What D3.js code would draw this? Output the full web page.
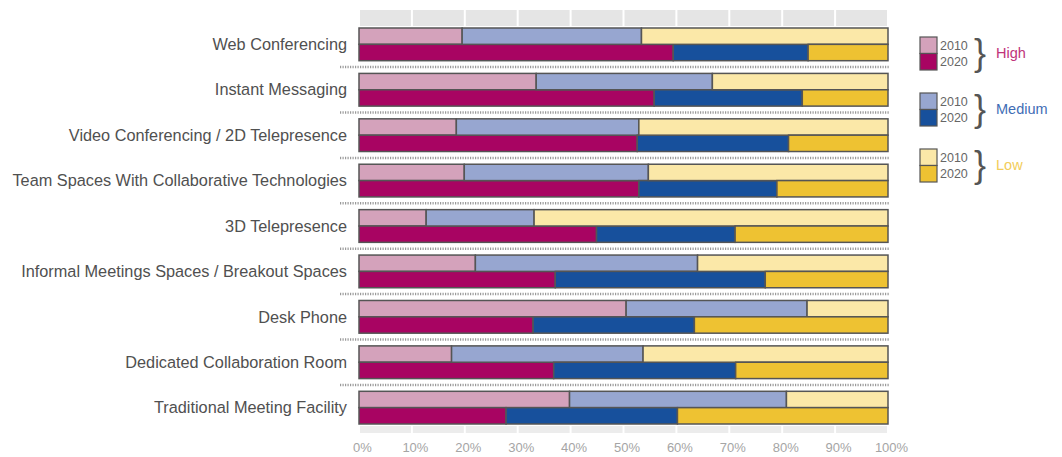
<!DOCTYPE html>
<html>
<head>
<meta charset="utf-8">
<script src="https://cdn.jsdelivr.net/npm/d3@7"></script>
<style>
    body { margin: 0; background: #fff; }
    text { font-family: "Liberation Sans", Arial, Helvetica, sans-serif; }
</style>
</head>
<body>
<div id="chart"></div>
<script>
// Chart data
const categories = [
    'Web Conferencing',
    'Instant Messaging',
    'Video Conferencing / 2D Telepresence',
    'Team Spaces With Collaborative Technologies',
    '3D Telepresence',
    'Informal Meetings Spaces / Breakout Spaces',
    'Desk Phone',
    'Dedicated Collaboration Room',
    'Traditional Meeting Facility'
];
const years = ['2010', '2020'];
const levels = ['High', 'Medium', 'Low'];

const high2010 = [19.5, 33.5, 18.4, 19.9, 12.7, 22.0, 50.5, 17.5, 39.8];
const medium2010 = [33.9, 33.3, 34.5, 34.8, 20.4, 42.0, 34.2, 36.2, 41.0];
const low2010 = [46.6, 33.2, 47.1, 45.3, 66.9, 36.0, 15.3, 46.3, 19.2];

const high2020 = [59.4, 55.8, 52.6, 52.9, 44.9, 37.1, 32.9, 36.8, 27.8];
const medium2020 = [25.5, 28.0, 28.6, 26.1, 26.2, 39.7, 30.5, 34.4, 32.4];
const low2020 = [15.1, 16.2, 18.8, 21.0, 28.9, 23.2, 36.6, 28.8, 39.8];

const tickValues = [0, 10, 20, 30, 40, 50, 60, 70, 80, 90, 100];

const colors = {
    '2010': { High: '#d4a2bb', Medium: '#97a6d0', Low: '#fbe8a8' },
    '2020': { High: '#a80462', Medium: '#17509c', Low: '#eec232' }
};
const levelTextColors = { High: '#c0337a', Medium: '#3f6db5', Low: '#f2cd5a' };

createChart();

function createChart() {
    const width = 1062;
    const height = 457;

    const svg = d3.select('#chart')
        .append('svg')
        .attr('width', width)
        .attr('height', height);

    // Flatten into one record per category/year
    const rows = [];
    categories.forEach((c, i) => {
        rows.push({ category: c, year: '2010', High: high2010[i], Medium: medium2010[i], Low: low2010[i] });
        rows.push({ category: c, year: '2020', High: high2020[i], Medium: medium2020[i], Low: low2020[i] });
    });

    const stacked = d3.stack().keys(levels)(rows);

    // Scales
    const xScale = d3.scaleLinear()
        .domain([0, 100])
        .range([359, 888]);

    const yScale = d3.scaleBand()
        .domain(categories)
        .range([28, 424])
        .paddingInner(0.28)
        .paddingOuter(0);

    const yearScale = d3.scaleBand()
        .domain(years)
        .range([0, yScale.bandwidth()]);

    // Grey strips on top and bottom of the plot
    const deciles = d3.range(0, 100, 10);
    [[10, 16, '#e5e5e5'], [426, 7, '#ececec']].forEach(([y, h, fill]) => {
        svg.append('g')
            .selectAll('rect')
            .data(deciles)
            .enter()
            .append('rect')
            .attr('x', d => xScale(d) + 1)
            .attr('y', y)
            .attr('width', d => xScale(d + 10) - xScale(d) - 2)
            .attr('height', h)
            .attr('fill', fill);
    });

    // Dotted separators between categories
    const step = yScale.step();
    const sepY = d => yScale(d) + yScale.bandwidth() + (step - yScale.bandwidth()) / 2;
    svg.append('g')
        .selectAll('line')
        .data(categories.slice(0, -1))
        .enter()
        .append('line')
        .attr('x1', 340)
        .attr('x2', xScale(100) + 1)
        .attr('y1', sepY)
        .attr('y2', sepY)
        .attr('stroke', '#9a9a9a')
        .attr('stroke-width', 2.5)
        .attr('stroke-dasharray', '1.2,1.3');

    // Bars
    svg.append('g')
        .selectAll('g')
        .data(stacked)
        .enter()
        .append('g')
        .selectAll('rect')
        .data(s => s.map(d => ({ key: s.key, d: d })))
        .enter()
        .append('rect')
        .attr('x', p => xScale(p.d[0]))
        .attr('y', p => yScale(p.d.data.category) + yearScale(p.d.data.year))
        .attr('width', p => xScale(p.d[1]) - xScale(p.d[0]))
        .attr('height', yearScale.bandwidth())
        .attr('fill', p => colors[p.d.data.year][p.key])
        .attr('stroke', '#555')
        .attr('stroke-width', 1.5);

    // Category labels
    svg.append('g')
        .selectAll('text')
        .data(categories)
        .enter()
        .append('text')
        .attr('x', 347)
        .attr('y', d => yScale(d) + yScale.bandwidth() / 2)
        .attr('dy', '0.35em')
        .attr('text-anchor', 'end')
        .attr('font-size', 16.3)
        .attr('fill', '#505050')
        .text(d => d);

    // Bottom axis
    const xAxis = d3.axisBottom(xScale)
        .tickValues(tickValues)
        .tickSize(0)
        .tickPadding(0)
        .tickFormat(d => d + '%');

    const axis = svg.append('g')
        .attr('transform', 'translate(3, 443)')
        .call(xAxis);
    axis.select('.domain').remove();
    axis.selectAll('text')
        .attr('font-size', 13)
        .attr('font-family', '"Liberation Sans", Arial, sans-serif')
        .attr('fill', '#a5a5a5');

    // Legend
    const legend = svg.append('g')
        .attr('transform', 'translate(920, 37)');

    const groups = legend.selectAll('g')
        .data(levels)
        .enter()
        .append('g')
        .attr('transform', (d, i) => `translate(0, ${i * 56})`);

    groups.selectAll('rect')
        .data(l => years.map(y => ({ level: l, year: y })))
        .enter()
        .append('rect')
        .attr('x', 0)
        .attr('y', (d, i) => i * 16.5)
        .attr('width', 17)
        .attr('height', 16.5)
        .attr('fill', d => colors[d.year][d.level])
        .attr('stroke', '#555')
        .attr('stroke-width', 1.2);

    groups.selectAll('text.year')
        .data(years)
        .enter()
        .append('text')
        .attr('class', 'year')
        .attr('x', 20)
        .attr('y', (d, i) => i * 16.5 + 12.5)
        .attr('font-size', 12.5)
        .attr('fill', '#666')
        .text(d => d);

    groups.append('text')
        .attr('x', 54)
        .attr('y', 28)
        .attr('font-size', 36)
        .attr('fill', '#555')
        .attr('font-family', '"DejaVu Sans", sans-serif')
        .attr('font-weight', 300)
        .text('}');

    groups.append('text')
        .attr('x', 76)
        .attr('y', 21)
        .attr('font-size', 14.5)
        .attr('fill', d => levelTextColors[d])
        .text(d => d);
}
</script>
</body>
</html>
